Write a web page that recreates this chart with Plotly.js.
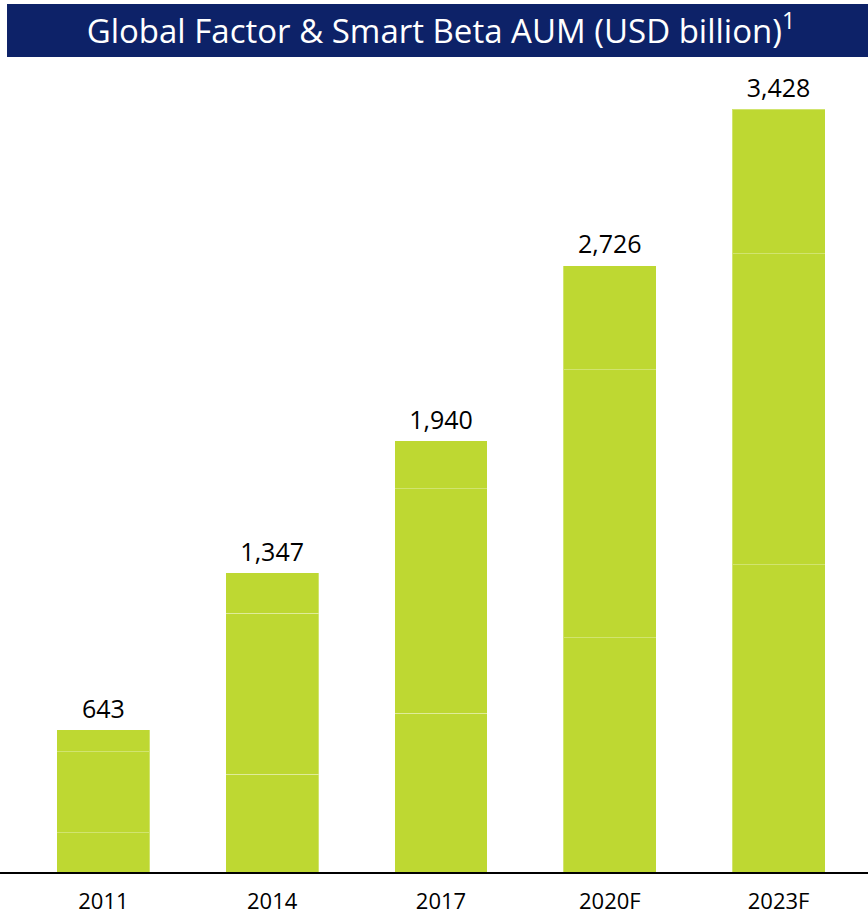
<!DOCTYPE html>
<html>
<head>
<meta charset="utf-8">
<script src="https://cdn.plot.ly/plotly-3.0.1.min.js"></script>
<style>
  html, body { margin: 0; padding: 0; background: #fff; }
  #chart { width: 868px; height: 918px; }
</style>
</head>
<body>
<div id="chart"></div>
<script>
// years on the x axis
var years = ['2011', '2014', '2017', '2020F', '2023F'];

// each bar is drawn as three stacked pieces of the same colour
var segBottom = [180, 444, 718, 1055, 1383];
var segMiddle = [364, 723, 1006, 1203, 1396];
var segTop    = [99, 180, 216, 468, 649];

// totals shown above the bars
var totals = [643, 1347, 1940, 2726, 3428];

var green = '#BED832';
var edge = 'rgba(255,255,255,0.3)';

function seg(vals) {
  return {
    type: 'bar',
    x: years,
    y: vals,
    marker: { color: green, line: { color: edge, width: 1 } },
    hoverinfo: 'skip',
    showlegend: false
  };
}

var labels = {
  type: 'scatter',
  mode: 'markers+text',
  x: years,
  y: totals,
  marker: { size: 8, opacity: 0 },
  texttemplate: '%{y:,}',
  textposition: 'top center',
  textfont: { family: 'Open Sans, sans-serif', size: 25, color: '#000' },
  hoverinfo: 'skip',
  showlegend: false,
  cliponaxis: false
};

var data = [seg(segBottom), seg(segMiddle), seg(segTop), labels];

var layout = {
  width: 868,
  height: 918,
  barmode: 'stack',
  bargap: 0.45,
  margin: { l: 19, r: 5, t: 71, b: 45 },
  paper_bgcolor: '#fff',
  plot_bgcolor: '#fff',
  title: {
    text: 'Global Factor & Smart Beta AUM (USD billion)<sup>1</sup>',
    font: { family: 'Open Sans, sans-serif', size: 33, color: '#fff' },
    x: 0.508,
    xanchor: 'center',
    y: 0.966,
    yanchor: 'middle'
  },
  shapes: [{
    type: 'rect',
    xref: 'paper', yref: 'paper',
    x0: -0.0142, x1: 1.006,
    y0: 1.0175, y1: 1.0835,
    fillcolor: '#0D2268',
    line: { width: 0 },
    layer: 'below'
  }, {
    type: 'line',
    xref: 'paper', yref: 'paper',
    x0: -0.0225, x1: 1.006,
    y0: 0, y1: 0,
    line: { color: '#000', width: 2 }
  }],
  xaxis: {
    type: 'category',
    showline: false,
    ticks: '',
    showgrid: false,
    zeroline: false,
    tickfont: { family: 'Open Sans, sans-serif', size: 22, color: '#000' },
    ticklabelstandoff: 13
  },
  yaxis: {
    range: [0, 3600],
    visible: false,
    showgrid: false,
    zeroline: false
  }
};

Plotly.newPlot('chart', data, layout, { displayModeBar: false, staticPlot: true });
</script>
</body>
</html>
